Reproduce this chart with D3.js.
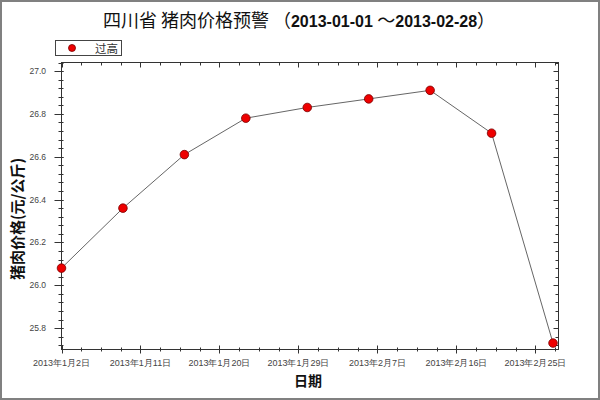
<!DOCTYPE html>
<html>
<head>
<meta charset="utf-8">
<script src="https://cdn.jsdelivr.net/npm/d3@7"></script>
<style>
body { margin:0; background:#fff; }
svg { display:block; }
</style>
</head>
<body>
<div id="chart"></div>
<script>
// weekly pork price, Sichuan
var dates = ["2013-01-02","2013-01-09","2013-01-16","2013-01-23","2013-01-30","2013-02-06","2013-02-13","2013-02-20","2013-02-27"];
var prices = [26.08, 26.36, 26.61, 26.78, 26.83, 26.87, 26.91, 26.71, 25.73];
var yTicks = [25.8, 26.0, 26.2, 26.4, 26.6, 26.8, 27.0];
var seriesName = "过高";

var parse = d3.timeParse("%Y-%m-%d");
var data = dates.map(function(d, i){ return {date: parse(d), value: prices[i]}; });

var W = 600, H = 400;
var pL = 61.5, pR = 558.5, pT = 62.5, pB = 349.5;

var svg = d3.select("#chart").append("svg")
	.attr("width", W)
	.attr("height", H);

svg.append("rect")
	.attr("x", 1).attr("y", 1).attr("width", W-2).attr("height", H-2)
	.attr("fill", "#fff").attr("stroke", "#808080").attr("stroke-width", 2);

var start = parse("2013-01-02");
var x = d3.scaleTime()
	.domain([start, new Date(2013, 1, 27, 15)])
	.range([pL, pR]);
var y = d3.scaleLinear()
	.domain([25.7, 27.04])
	.range([pB, pT]);

var majorX = d3.range(0, 57, 9).map(function(n){ return d3.timeDay.offset(start, n); });
var minorX = d3.range(0, 56.7, 2.25).map(function(n){ return new Date(+start + n*864e5); });
var minorY = d3.range(25.72, 27.05, 0.04);

var axisColor = "#333";
var fmt = d3.timeFormat("%Y年%-m月%-d日");

// frame
svg.append("rect")
	.attr("x", pL).attr("y", pT)
	.attr("width", pR-pL).attr("height", pB-pT)
	.attr("fill", "none").attr("stroke", axisColor).attr("stroke-width", 1);

var g = svg.append("g").attr("stroke", axisColor).attr("stroke-width", 1);

// bottom + top ticks
minorX.forEach(function(d){
	var px = Math.round(x(d)) + 0.5;
	g.append("line").attr("x1", px).attr("x2", px).attr("y1", pB-2).attr("y2", pB+2);
	g.append("line").attr("x1", px).attr("x2", px).attr("y1", pT).attr("y2", pT+3);
});
majorX.forEach(function(d){
	var px = Math.round(x(d)) + 0.5;
	g.append("line").attr("x1", px).attr("x2", px).attr("y1", pB-4).attr("y2", pB+4);
	g.append("line").attr("x1", px).attr("x2", px).attr("y1", pT).attr("y2", pT+5);
});

// left + right ticks
minorY.forEach(function(v){
	var py = Math.round(y(v)) + 0.5;
	g.append("line").attr("x1", pL-3).attr("x2", pL+2).attr("y1", py).attr("y2", py);
	g.append("line").attr("x1", pR-3).attr("x2", pR).attr("y1", py).attr("y2", py);
});
yTicks.forEach(function(v){
	var py = Math.round(y(v)) + 0.5;
	g.append("line").attr("x1", pL-7).attr("x2", pL+2).attr("y1", py).attr("y2", py);
	g.append("line").attr("x1", pR-5).attr("x2", pR).attr("y1", py).attr("y2", py);
});

// tick labels
svg.append("g").selectAll("text")
	.data(majorX)
  .enter().append("text")
	.attr("x", function(d){ return x(d); })
	.attr("y", 366)
	.attr("text-anchor", "middle")
	.attr("font-family", "Liberation Sans, Arial, sans-serif")
	.attr("font-size", 9)
	.attr("fill", "#444")
	.text(fmt);

svg.append("g").selectAll("text")
	.data(yTicks)
  .enter().append("text")
	.attr("x", 46)
	.attr("y", function(d){ return y(d) + 3; })
	.attr("text-anchor", "end")
	.attr("font-family", "Liberation Sans, Arial, sans-serif")
	.attr("font-size", 8.5)
	.attr("fill", "#444")
	.text(function(d){ return d.toFixed(1); });

// line + markers
var line = d3.line()
	.x(function(d){ return x(d.date); })
	.y(function(d){ return y(d.value); });

svg.append("path")
	.datum(data)
	.attr("d", line)
	.attr("fill", "none")
	.attr("stroke", "#666")
	.attr("stroke-width", 1);

svg.selectAll("circle.pt")
	.data(data)
  .enter().append("circle")
	.attr("class", "pt")
	.attr("cx", function(d){ return x(d.date); })
	.attr("cy", function(d){ return y(d.value); })
	.attr("r", 4.3)
	.attr("fill", "#ee0000")
	.attr("stroke", "#700")
	.attr("stroke-width", 0.8);

// title
var title = svg.append("text")
	.attr("x", 299)
	.attr("y", 27)
	.attr("text-anchor", "middle")
	.attr("font-size", 18)
	.attr("fill", "#111");
title.append("tspan")
	.attr("font-family", "Noto Sans CJK SC, sans-serif")
	.text("四川省 猪肉价格预警 （");
title.append("tspan")
	.attr("font-family", "Liberation Sans, Arial, sans-serif")
	.attr("font-weight", "bold")
	.attr("font-size", 16)
	.text("2013-01-01 ");
title.append("tspan")
	.attr("font-family", "Noto Sans CJK SC, sans-serif")
	.text("～");
title.append("tspan")
	.attr("font-family", "Liberation Sans, Arial, sans-serif")
	.attr("font-weight", "bold")
	.attr("font-size", 16)
	.text("2013-02-28");
title.append("tspan")
	.attr("font-family", "Noto Sans CJK SC, sans-serif")
	.text("）");

// legend
svg.append("rect")
	.attr("x", 55.5).attr("y", 40.5).attr("width", 66).attr("height", 15)
	.attr("fill", "#fff").attr("stroke", "#444").attr("stroke-width", 1);
svg.append("circle")
	.attr("cx", 72).attr("cy", 48).attr("r", 3.5)
	.attr("fill", "#ee0000").attr("stroke", "#700").attr("stroke-width", 0.8);
svg.append("text")
	.attr("x", 95).attr("y", 52.5)
	.attr("font-family", "Noto Sans CJK SC, sans-serif")
	.attr("font-size", 11.5)
	.attr("fill", "#333")
	.text(seriesName);

// axis titles
svg.append("text")
	.attr("x", 308).attr("y", 386)
	.attr("text-anchor", "middle")
	.attr("font-family", "Noto Sans CJK SC, sans-serif")
	.attr("font-weight", "bold")
	.attr("font-size", 14)
	.attr("fill", "#111")
	.text("日期");

svg.append("text")
	.attr("transform", "translate(23,219) rotate(-90)")
	.attr("text-anchor", "middle")
	.attr("font-family", "Noto Sans CJK SC, sans-serif")
	.attr("font-weight", "bold")
	.attr("font-size", 15)
	.attr("fill", "#111")
	.text("猪肉价格(元/公斤)");
</script>
</body>
</html>
